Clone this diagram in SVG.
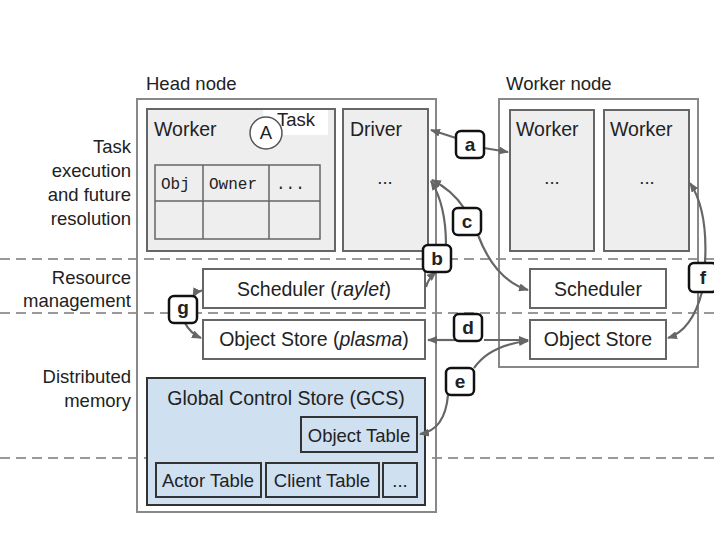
<svg xmlns="http://www.w3.org/2000/svg" width="714" height="538" viewBox="0 0 714 538">
<style>
text{font-family:"Liberation Sans",Arial,sans-serif;font-size:18.5px;fill:#222}
.n{font-size:19.5px}
.m{font-family:"Liberation Mono",monospace;font-size:16px}
.box{fill:#fff;stroke:#666;stroke-width:2}
.gray{fill:#eee;stroke:#666;stroke-width:2}
.blue{fill:#cfe0f1;stroke:#333;stroke-width:2}
.dash{stroke:#999;stroke-width:2;stroke-dasharray:10,6}
.lab rect{fill:#fff;stroke:#111;stroke-width:2.5}
.lab text{font-weight:bold;text-anchor:middle;font-size:19px}
.c{fill:none;stroke:#666;stroke-width:2.2;marker-end:url(#ah)}
.r{text-anchor:end}
</style>
<defs><marker id="ah" markerWidth="10" markerHeight="8" refX="9" refY="4" orient="auto" markerUnits="userSpaceOnUse"><path d="M0,0L10,4L0,8z" fill="#666"/></marker></defs>
<rect width="714" height="538" fill="#fff"/>
<g id="dashes">
<line class="dash" x1="0" y1="259" x2="714" y2="259"/>
<line class="dash" x1="0" y1="313" x2="714" y2="313"/>
<line class="dash" x1="0" y1="458" x2="714" y2="458"/>
</g>
<g id="rowlabels">
<text class="r" x="131" y="153">Task</text><text class="r" x="131" y="177">execution</text>
<text class="r" x="131" y="201">and future</text><text class="r" x="131" y="225">resolution</text>
<text class="r" x="131" y="284">Resource</text><text class="r" x="131" y="307">management</text>
<text class="r" x="131" y="383">Distributed</text><text class="r" x="131" y="407">memory</text>
</g>
<g id="head">
<rect x="137" y="99" width="299" height="413" fill="none" stroke="#888" stroke-width="2"/>
<text x="146" y="90">Head node</text>
</g>
<g id="worker-head">
<rect class="gray" x="147" y="109" width="188" height="142"/>
<rect x="263" y="110" width="65" height="25" fill="#fff"/>
<text class="n" x="154" y="136">Worker</text>
<text x="277" y="126" font-size="16">Task</text>
<circle cx="266" cy="133" r="16" fill="#fff" stroke="#555" stroke-width="1.5"/>
<text x="266" y="139" text-anchor="middle" font-size="16">A</text>
<rect x="155" y="165" width="165" height="74" fill="#eee" stroke="#666" stroke-width="1.5"/>
<path d="M203,165V239M269,165V239M155,201H320" stroke="#666" stroke-width="1.5"/>
<text class="m" x="161" y="189">Obj</text><text class="m" x="209" y="189">Owner</text><text class="m" x="276" y="189">...</text>
</g>
<g id="driver">
<rect class="gray" x="343" y="109" width="85" height="142"/>
<text class="n" x="350" y="136">Driver</text>
<text x="385" y="184" text-anchor="middle" font-size="16">...</text>
</g>
<g id="sched-head"><rect class="box" x="203" y="269" width="222" height="39"/><text class="n" x="314" y="296" text-anchor="middle">Scheduler (<tspan font-style="italic">raylet</tspan>)</text></g>
<g id="store-head"><rect class="box" x="203" y="320" width="222" height="39"/><text class="n" x="314" y="346" text-anchor="middle">Object Store (<tspan font-style="italic">plasma</tspan>)</text></g>
<g id="gcs">
<rect class="blue" x="147" y="378" width="278" height="127" stroke="#666"/>
<text class="n" x="286" y="405" text-anchor="middle">Global Control Store (GCS)</text>
</g>
<g id="objtable"><rect class="blue" x="301" y="417" width="116" height="35"/><text x="359" y="442" text-anchor="middle" font-size="17.5">Object Table</text></g>
<g id="actortable"><rect class="blue" x="156" y="463" width="105" height="34"/><text x="208" y="487" text-anchor="middle" font-size="17.5">Actor Table</text></g>
<g id="clienttable"><rect class="blue" x="266" y="463" width="113" height="34"/><text x="322" y="487" text-anchor="middle" font-size="17.5">Client Table</text></g>
<g id="gcsmore"><rect class="blue" x="383" y="463" width="34" height="34"/><text x="400" y="487" text-anchor="middle" font-size="16">...</text></g>
<g id="workernode">
<rect x="499" y="99" width="199" height="268" fill="none" stroke="#888" stroke-width="2"/>
<text x="506" y="90">Worker node</text>
</g>
<g id="worker1"><rect class="gray" x="510" y="110" width="84" height="141"/><text class="n" x="516" y="136">Worker</text><text x="552" y="184" text-anchor="middle" font-size="16">...</text></g>
<g id="worker2"><rect class="gray" x="604" y="110" width="85" height="141"/><text class="n" x="610" y="136">Worker</text><text x="647" y="184" text-anchor="middle" font-size="16">...</text></g>
<g id="sched-worker"><rect class="box" x="530" y="269" width="136" height="39"/><text class="n" x="598" y="296" text-anchor="middle">Scheduler</text></g>
<g id="store-worker"><rect class="box" x="530" y="320" width="136" height="39"/><text class="n" x="598" y="346" text-anchor="middle">Object Store</text></g>
<g id="connectors">
<path class="c" d="M456,138L431,130"/>
<path class="c" d="M484,148L508,152"/>
<path class="c" d="M446,245Q446,205 431,181"/>
<path class="c" d="M426,287Q428,279 436,272"/>
<path class="c" d="M464,208Q452,190 432,180"/>
<path class="c" d="M478,235Q495,280 528,290"/>
<path class="c" d="M456,340L428,340"/>
<path class="c" d="M484,340L528,340"/>
<path class="c" d="M474,368Q490,345 528,341"/>
<path class="c" d="M448,395Q445,430 420,434"/>
<path class="c" d="M705,263Q708,210 690,183"/>
<path class="c" d="M702,292Q692,330 668,338"/>
<path class="c" d="M203,290Q195,293 193,297"/>
<path class="c" d="M185,323Q190,333 201,338"/>
</g>
<g id="labels" class="lab">
<rect x="456" y="131" width="28" height="27" rx="5"/><text x="470" y="151">a</text>
<rect x="423" y="245" width="28" height="27" rx="5"/><text x="437" y="265">b</text>
<rect x="453" y="208" width="28" height="27" rx="5"/><text x="467" y="228">c</text>
<rect x="454" y="314" width="28" height="27" rx="5"/><text x="468" y="334">d</text>
<rect x="446" y="368" width="28" height="27" rx="5"/><text x="460" y="388">e</text>
<rect x="689" y="263" width="28" height="29" rx="5"/><text x="703" y="284">f</text>
<rect x="169" y="296" width="28" height="27" rx="5"/><text x="183" y="314">g</text>
</g>
</svg>
